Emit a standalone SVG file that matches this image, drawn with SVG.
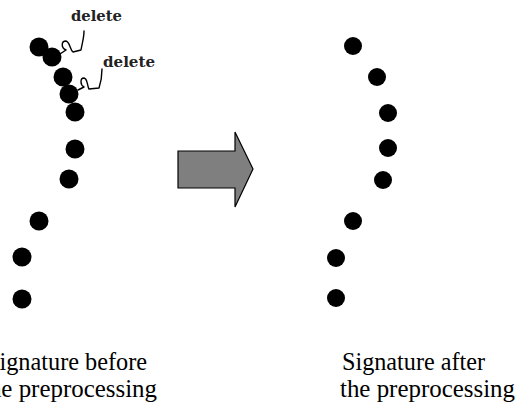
<svg xmlns="http://www.w3.org/2000/svg" width="520" height="409" viewBox="0 0 520 409">
<style>
.dot{fill:#000}
.curl{fill:none;stroke:#000;stroke-width:1.4;stroke-linecap:round;stroke-linejoin:round}
.del{font-family:"DejaVu Serif","Liberation Serif",serif;font-weight:bold;font-size:14px;fill:#222}
.cap{font-family:"Liberation Serif","Times New Roman",serif;font-size:25px;fill:#000}
.arrow{fill:#7f7f7f;stroke:#000;stroke-width:1.2}
</style>
<rect width="520" height="409" fill="#fff"/>
<g id="before">
<circle class="dot" cx="39" cy="47" r="9.5"/>
<circle class="dot" cx="52" cy="57" r="9.5"/>
<circle class="dot" cx="63" cy="77" r="9.5"/>
<circle class="dot" cx="69" cy="94" r="9.5"/>
<circle class="dot" cx="75" cy="112" r="9.5"/>
<circle class="dot" cx="75" cy="149" r="9.5"/>
<circle class="dot" cx="69" cy="179" r="9.5"/>
<circle class="dot" cx="39" cy="221" r="9.5"/>
<circle class="dot" cx="22" cy="257" r="9.5"/>
<circle class="dot" cx="22" cy="299" r="9.5"/>
</g>
<g id="delete-labels">
<text class="del" x="71" y="21" textLength="51" lengthAdjust="spacingAndGlyphs">delete</text>
<text class="del" x="103" y="67" textLength="52" lengthAdjust="spacingAndGlyphs">delete</text>
<path class="curl" d="M84,31 C84,38 82,44 81,50 L73,52 C70,50 70,42 66,41 C61,41 61,48 66,50 L60,54"/>
<path class="curl" d="M102,69 C102,75 101,82 99,88 L89,89 C87,86 88,79 84,78 C80,78 80,85 84,87 L78,90"/>
</g>
<g id="arrow">
<polygon class="arrow" points="178,151 235,151 235,132 253,169 235,207 235,188 178,188"/>
</g>
<g id="after">
<circle class="dot" cx="353" cy="46" r="9"/>
<circle class="dot" cx="377" cy="77" r="9"/>
<circle class="dot" cx="388" cy="113" r="9"/>
<circle class="dot" cx="388" cy="148" r="9"/>
<circle class="dot" cx="383" cy="180" r="9"/>
<circle class="dot" cx="353" cy="221" r="9"/>
<circle class="dot" cx="336" cy="258" r="9"/>
<circle class="dot" cx="336" cy="298" r="9"/>
</g>
<g id="captions">
<text class="cap" x="-14" y="370" textLength="161" lengthAdjust="spacingAndGlyphs">Signature before</text>
<text class="cap" x="-18" y="397" textLength="175" lengthAdjust="spacingAndGlyphs">the preprocessing</text>
<text class="cap" x="342" y="370" textLength="143" lengthAdjust="spacingAndGlyphs">Signature after</text>
<text class="cap" x="340" y="397" textLength="175" lengthAdjust="spacingAndGlyphs">the preprocessing</text>
</g>
</svg>
